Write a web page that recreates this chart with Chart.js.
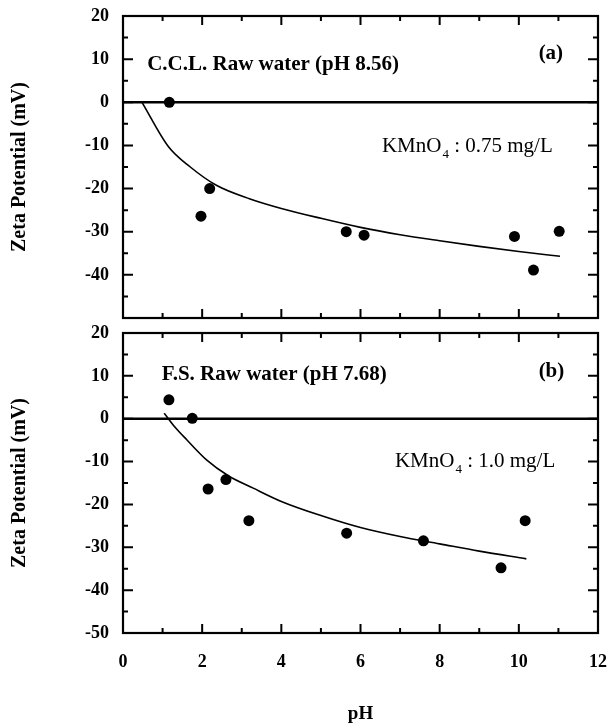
<!DOCTYPE html>
<html><head><meta charset="utf-8">
<script src="https://cdn.jsdelivr.net/npm/chart.js@4.4.0/dist/chart.umd.min.js"></script>
<style>
html,body{margin:0;padding:0;background:#fff;width:614px;height:724px;overflow:hidden;position:relative}
#c1{position:absolute;left:0;top:-14px}
#c2{position:absolute;left:0;top:303px}
</style></head><body>
<canvas id="c1" width="614" height="362"></canvas>
<canvas id="c2" width="626" height="421"></canvas>
<script>
// ---- data ----
const yTickValues = [20, 10, 0, -10, -20, -30, -40, -50];
const xTickValues = [0, 2, 4, 6, 8, 10, 12];

// panel (a) C.C.L. raw water
const phA   = [1.17, 1.97, 2.19, 5.64, 6.09, 9.89, 10.37, 11.02];
const zetaA = [0, -26.4, -20.0, -30.0, -30.8, -31.1, -38.9, -29.9];
const fitPhA   = [0.48, 1.15, 1.70, 2.37, 3.21, 4.0, 5.0, 6.0, 7.0, 8.0, 9.0, 10.0, 11.04];
const fitZetaA = [0, -10.3, -15.0, -19.3, -22.4, -24.6, -26.9, -29.0, -30.7, -32.1, -33.4, -34.6, -35.7];

// panel (b) F.S. raw water
const phB   = [1.16, 1.75, 2.15, 2.60, 3.18, 5.65, 7.59, 9.55, 10.16];
const zetaB = [4.4, 0.1, -16.4, -14.2, -23.8, -26.7, -28.5, -34.8, -23.8];
const fitPhB   = [1.04, 1.3, 1.61, 2.11, 2.66, 3.29, 4.0, 5.0, 6.0, 7.0, 8.0, 9.0, 10.19];
const fitZetaB = [1.3, -1.8, -4.9, -9.6, -13.3, -16.2, -19.3, -22.6, -25.4, -27.5, -29.2, -30.9, -32.7];

const labelsA = {caption: 'C.C.L. Raw water (pH 8.56)', tag: '(a)', dose: ' : 0.75 mg/L'};
const labelsB = {caption: 'F.S. Raw water (pH 7.68)', tag: '(b)', dose: ' : 1.0 mg/L'};

const SERIF = "'Liberation Serif','Times New Roman',Times,serif";

function toXY(xs, ys){ return xs.map((x,i)=>({x:x, y:ys[i]})); }

function decorPlugin(lbl, pos){
  return {
    id: 'decor',
    beforeDatasetsDraw(chart){
      const {ctx, chartArea:a, scales:{x, y}} = chart;
      ctx.save();
      ctx.strokeStyle = '#000';
      // zero line
      ctx.lineWidth = 2.5;
      ctx.beginPath();
      ctx.moveTo(a.left, y.getPixelForValue(0));
      ctx.lineTo(a.right, y.getPixelForValue(0));
      ctx.stroke();
      // inward ticks
      ctx.lineWidth = 2;
      for (let v = 1; v < 12; v++){
        const px = x.getPixelForValue(v);
        const len = (v % 2 === 0) ? 9 : 5;
        ctx.beginPath();
        ctx.moveTo(px, a.top); ctx.lineTo(px, a.top + len);
        ctx.moveTo(px, a.bottom); ctx.lineTo(px, a.bottom - len);
        ctx.stroke();
      }
      for (let v = -45; v < 20; v += 5){
        const py = y.getPixelForValue(v);
        const len = (v % 10 === 0) ? 10 : 5;
        ctx.beginPath();
        ctx.moveTo(a.left, py); ctx.lineTo(a.left + len, py);
        ctx.moveTo(a.right, py); ctx.lineTo(a.right - len, py);
        ctx.stroke();
      }
      // frame
      ctx.lineWidth = 2.2;
      ctx.strokeRect(a.left, a.top, a.right - a.left, a.bottom - a.top);
      ctx.restore();
    },
    afterDraw(chart){
      const {ctx, scales:{x, y}} = chart;
      ctx.save();
      ctx.fillStyle = '#000';
      ctx.textBaseline = 'alphabetic';
      ctx.textAlign = 'left';
      ctx.font = 'bold 21px ' + SERIF;
      ctx.fillText(lbl.caption, x.getPixelForValue(pos.cap[0]), y.getPixelForValue(pos.cap[1]));
      ctx.fillText(lbl.tag, x.getPixelForValue(pos.tag[0]), y.getPixelForValue(pos.tag[1]));
      let px = x.getPixelForValue(pos.dose[0]);
      const py = y.getPixelForValue(pos.dose[1]);
      ctx.font = '21px ' + SERIF;
      ctx.fillText('KMnO', px, py);
      px += ctx.measureText('KMnO').width;
      ctx.font = '13px ' + SERIF;
      ctx.fillText('4', px + 1, py + 6);
      px += ctx.measureText('4').width + 1;
      ctx.font = '21px ' + SERIF;
      ctx.fillText(lbl.dose, px, py);
      ctx.restore();
    }
  };
}

function makeChart(id, pts, fit, lbl, pos, isBottom){
  const yScale = {
    type: 'linear', min: -50, max: 20,
    afterBuildTicks(scale){ scale.ticks = yTickValues.map(v=>({value:v})); },
    afterFit(scale){ scale.width = 123; },
    grid: {display: false, drawTicks: false},
    border: {display: false},
    ticks: {
      color: '#000', padding: 14,
      font: {family: SERIF, size: 18, weight: 'bold'},
      callback: (v) => (!isBottom && v === -50) ? '' : String(v)
    },
    title: {
      display: true, text: 'Zeta Potential (mV)', color: '#000',
      font: {family: SERIF, size: 20, weight: 'bold'},
      padding: {top: 8, bottom: 0}
    }
  };
  const xScale = {
    type: 'linear', min: 0, max: 12,
    display: isBottom,
    afterBuildTicks(scale){ scale.ticks = xTickValues.map(v=>({value:v})); },
    grid: {display: false, drawTicks: false},
    border: {display: false},
    ticks: {color: '#000', padding: 19, maxRotation: 0,
      font: {family: SERIF, size: 18, weight: 'bold'}},
    title: {display: true, text: 'pH', color: '#000',
      font: {family: SERIF, size: 19, weight: 'bold', lineHeight: 1},
      padding: {top: 0, bottom: 0}}
  };
  if (isBottom) xScale.afterFit = (scale) => { scale.height = 91; };
  return new Chart(document.getElementById(id), {
    type: 'scatter',
    data: {
      datasets: [
        {data: fit, showLine: true, borderColor: '#000', borderWidth: 1.6,
         pointRadius: 0, cubicInterpolationMode: 'monotone', fill: false},
        {data: pts, showLine: false, backgroundColor: '#000', borderColor: '#000',
         pointRadius: 5.5, pointBorderWidth: 0}
      ]
    },
    options: {
      responsive: false, animation: false, devicePixelRatio: 1,
      layout: {padding: isBottom ? {top: 30, right: 0, bottom: 0, left: 0}
                                 : {top: 30, right: 16, bottom: 30, left: 0}},
      plugins: {legend: {display: false}, tooltip: {enabled: false}},
      scales: {x: xScale, y: yScale}
    },
    plugins: [decorPlugin(lbl, pos)]
  });
}

makeChart('c1', toXY(phA, zetaA), toXY(fitPhA, fitZetaA), labelsA,
  {cap: [0.61, 7.4], tag: [10.5, 10.0], dose: [6.54, -11.6]}, false);
makeChart('c2', toXY(phB, zetaB), toXY(fitPhB, fitZetaB), labelsB,
  {cap: [0.98, 9.1], tag: [10.5, 9.8], dose: [6.87, -11.2]}, true);
</script>
</body></html>
